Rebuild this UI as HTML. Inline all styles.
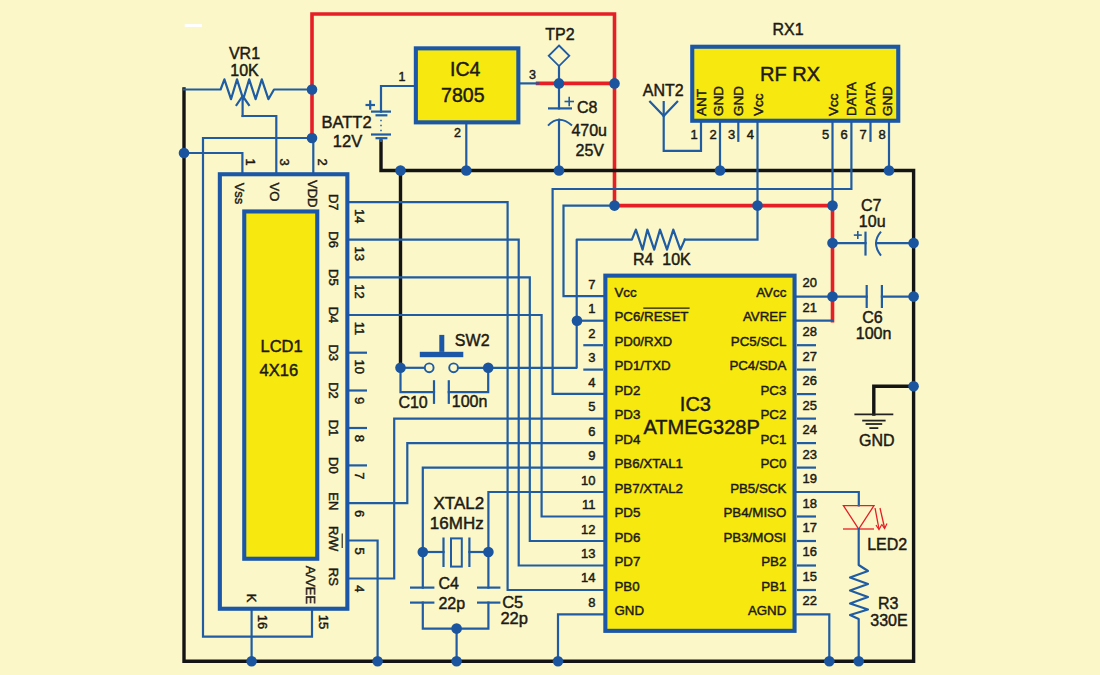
<!DOCTYPE html>
<html><head><meta charset="utf-8"><style>
html,body{margin:0;padding:0;background:#FBF7C9;}
svg{display:block;font-family:"Liberation Sans",sans-serif;}
</style></head><body>
<svg width="1100" height="675" viewBox="0 0 1100 675">
<rect width="1100" height="675" fill="#FBF7C9"/>
<polyline points="312,89 312,14 614.5,14 614.5,205.6 832.5,205.6 832.5,320.6" fill="none" stroke="#E61E26" stroke-width="3.6" stroke-linejoin="miter" stroke-linecap="square" />
<polyline points="312,89 312,138" fill="none" stroke="#E61E26" stroke-width="3.6" stroke-linejoin="miter" stroke-linecap="square" />
<polyline points="537.6,83.4 614.5,83.4" fill="none" stroke="#E61E26" stroke-width="3.6" stroke-linejoin="miter" stroke-linecap="square" />
<polyline points="381,141 381,170.5 913.6,170.5 913.6,661.2 184,661.2 184,89" fill="none" stroke="#141414" stroke-width="3.4" stroke-linejoin="miter" stroke-linecap="square" />
<polyline points="400.5,170.5 400.5,367.8" fill="none" stroke="#141414" stroke-width="3.4" stroke-linejoin="miter" stroke-linecap="square" />
<polyline points="913.6,386.3 873.8,386.3 873.8,414" fill="none" stroke="#141414" stroke-width="3.4" stroke-linejoin="miter" stroke-linecap="square" />
<polyline points="184,89.5 220.6,89.5 224.4,79.4 231,99.2 237,79.4 243.2,99.2 249.2,79.4 255.6,99.2 261.8,79.4 268.4,99.2 274,89.5 312,89.5" fill="none" stroke="#1F5CA3" stroke-width="2.2" stroke-linejoin="round" stroke-linecap="square" />
<polyline points="242.6,116 242.6,96.5" fill="none" stroke="#1F5CA3" stroke-width="2.2" stroke-linejoin="miter" stroke-linecap="square" />
<polyline points="236.5,105 242.6,96 248.9,105" fill="none" stroke="#1F5CA3" stroke-width="2.2" stroke-linejoin="round" stroke-linecap="square" />
<polyline points="242.6,116 276.3,116 276.3,173" fill="none" stroke="#1F5CA3" stroke-width="2.2" stroke-linejoin="miter" stroke-linecap="square" />
<polyline points="312,138 203,138 203,636.6 312,636.6 312,609" fill="none" stroke="#1F5CA3" stroke-width="2.2" stroke-linejoin="miter" stroke-linecap="square" />
<polyline points="313.3,138 313.3,173" fill="none" stroke="#1F5CA3" stroke-width="2.2" stroke-linejoin="miter" stroke-linecap="square" />
<polyline points="184,153 242.4,153 242.4,173" fill="none" stroke="#1F5CA3" stroke-width="2.2" stroke-linejoin="miter" stroke-linecap="square" />
<polyline points="414,86 381,86 381,111.6" fill="none" stroke="#1F5CA3" stroke-width="2.2" stroke-linejoin="miter" stroke-linecap="square" />
<line x1="371" y1="111.6" x2="391" y2="111.6" stroke="#1F5CA3" stroke-width="2.2" stroke-linecap="butt"/>
<line x1="375.5" y1="115.3" x2="387.4" y2="115.3" stroke="#1F5CA3" stroke-width="2.2" stroke-linecap="butt"/>
<line x1="381" y1="119.7" x2="381" y2="121.3" stroke="#1F5CA3" stroke-width="1.5" stroke-linecap="butt"/>
<line x1="381" y1="124.7" x2="381" y2="126.3" stroke="#1F5CA3" stroke-width="1.5" stroke-linecap="butt"/>
<line x1="381" y1="129.7" x2="381" y2="131.3" stroke="#1F5CA3" stroke-width="1.5" stroke-linecap="butt"/>
<line x1="371" y1="134.5" x2="391" y2="134.5" stroke="#1F5CA3" stroke-width="2.2" stroke-linecap="butt"/>
<line x1="375.5" y1="138.2" x2="387.4" y2="138.2" stroke="#1F5CA3" stroke-width="2.2" stroke-linecap="butt"/>
<line x1="381" y1="138.2" x2="381" y2="142" stroke="#1F5CA3" stroke-width="2" stroke-linecap="butt"/>
<line x1="365.5" y1="105" x2="375" y2="105" stroke="#1F5CA3" stroke-width="2.2" stroke-linecap="butt"/>
<line x1="370.2" y1="100.3" x2="370.2" y2="109.7" stroke="#1F5CA3" stroke-width="2.2" stroke-linecap="butt"/>
<polyline points="466.3,124 466.3,170.5" fill="none" stroke="#1F5CA3" stroke-width="2.2" stroke-linejoin="miter" stroke-linecap="square" />
<polyline points="520,83.4 538,83.4" fill="none" stroke="#1F5CA3" stroke-width="2.2" stroke-linejoin="miter" stroke-linecap="square" />
<polygon points="559,45.5 569.3,55.8 559,66.1 548.7,55.8" fill="none" stroke="#1F5CA3" stroke-width="1.8"/>
<polyline points="559,66 559,108.4" fill="none" stroke="#1F5CA3" stroke-width="2.2" stroke-linejoin="miter" stroke-linecap="square" />
<line x1="548" y1="108.4" x2="572" y2="108.4" stroke="#1F5CA3" stroke-width="2.2" stroke-linecap="butt"/>
<path d="M548,125.6 Q559,114 572,125.6" fill="none" stroke="#1F5CA3" stroke-width="2"/>
<polyline points="559,119.8 559,170.5" fill="none" stroke="#1F5CA3" stroke-width="2.2" stroke-linejoin="miter" stroke-linecap="square" />
<line x1="564.5" y1="101.5" x2="574" y2="101.5" stroke="#1F5CA3" stroke-width="1.6" stroke-linecap="butt"/>
<line x1="569.2" y1="96.8" x2="569.2" y2="106.2" stroke="#1F5CA3" stroke-width="1.6" stroke-linecap="butt"/>
<polyline points="701,122 701,150.8 663.7,150.8 663.7,102" fill="none" stroke="#1F5CA3" stroke-width="2.2" stroke-linejoin="miter" stroke-linecap="square" />
<polyline points="650.1,101.7 663.7,116" fill="none" stroke="#1F5CA3" stroke-width="2.2" stroke-linejoin="miter" stroke-linecap="square" stroke-linecap="butt"/>
<polyline points="677.2,101.7 663.7,116" fill="none" stroke="#1F5CA3" stroke-width="2.2" stroke-linejoin="miter" stroke-linecap="square" stroke-linecap="butt"/>
<polyline points="720,122 720,170.5" fill="none" stroke="#1F5CA3" stroke-width="2.2" stroke-linejoin="miter" stroke-linecap="square" />
<polyline points="738.3,122 738.3,140.8" fill="none" stroke="#1F5CA3" stroke-width="2.2" stroke-linejoin="miter" stroke-linecap="square" />
<polyline points="757.5,122 757.5,239.6 684.8,239.6" fill="none" stroke="#1F5CA3" stroke-width="2.2" stroke-linejoin="miter" stroke-linecap="square" />
<polyline points="684.8,239.6 680.4,249.6 673.3,229.6 667,249.6 660,229.6 654.2,249.6 647.4,229.6 642.6,249.6 635.9,229.6 631.9,239.6 576.7,239.6 576.7,367.8 488.2,367.8" fill="none" stroke="#1F5CA3" stroke-width="2.2" stroke-linejoin="round" stroke-linecap="square" />
<polyline points="832.5,122 832.5,205.6" fill="none" stroke="#1F5CA3" stroke-width="2.2" stroke-linejoin="miter" stroke-linecap="square" />
<polyline points="851.4,122 851.4,189 552.6,189 552.6,393.9 603,393.9" fill="none" stroke="#1F5CA3" stroke-width="2.2" stroke-linejoin="miter" stroke-linecap="square" />
<polyline points="870.5,122 870.5,140.8" fill="none" stroke="#1F5CA3" stroke-width="2.2" stroke-linejoin="miter" stroke-linecap="square" />
<polyline points="889,122 889,170.5" fill="none" stroke="#1F5CA3" stroke-width="2.2" stroke-linejoin="miter" stroke-linecap="square" />
<polyline points="614.5,205.6 563.5,205.6 563.5,296.2 603,296.2" fill="none" stroke="#1F5CA3" stroke-width="2.2" stroke-linejoin="miter" stroke-linecap="square" />
<polyline points="577,320.7 603,320.7" fill="none" stroke="#1F5CA3" stroke-width="2.2" stroke-linejoin="miter" stroke-linecap="square" />
<line x1="583.3" y1="345.2" x2="603" y2="345.2" stroke="#1F5CA3" stroke-width="2.2" stroke-linecap="butt"/>
<line x1="583.3" y1="369.6" x2="603" y2="369.6" stroke="#1F5CA3" stroke-width="2.2" stroke-linecap="butt"/>
<polyline points="603,418.6 394.2,418.6 394.2,578.5 349,578.5" fill="none" stroke="#1F5CA3" stroke-width="2.2" stroke-linejoin="miter" stroke-linecap="square" />
<polyline points="603,443.1 407.3,443.1 407.3,503.1 349,503.1" fill="none" stroke="#1F5CA3" stroke-width="2.2" stroke-linejoin="miter" stroke-linecap="square" />
<polyline points="603,467.6 422.8,467.6 422.8,587.6" fill="none" stroke="#1F5CA3" stroke-width="2.2" stroke-linejoin="miter" stroke-linecap="square" />
<polyline points="603,492 488.4,492 488.4,587.6" fill="none" stroke="#1F5CA3" stroke-width="2.2" stroke-linejoin="miter" stroke-linecap="square" />
<polyline points="603,516.5 541.6,516.5 541.6,315 349,315" fill="none" stroke="#1F5CA3" stroke-width="2.2" stroke-linejoin="miter" stroke-linecap="square" />
<polyline points="603,541 529.8,541 529.8,277.3 349,277.3" fill="none" stroke="#1F5CA3" stroke-width="2.2" stroke-linejoin="miter" stroke-linecap="square" />
<polyline points="603,565.5 518.7,565.5 518.7,239.6 349,239.6" fill="none" stroke="#1F5CA3" stroke-width="2.2" stroke-linejoin="miter" stroke-linecap="square" />
<polyline points="603,590 507.6,590 507.6,202.2 349,202.2" fill="none" stroke="#1F5CA3" stroke-width="2.2" stroke-linejoin="miter" stroke-linecap="square" />
<polyline points="603,614.4 558,614.4 558,661.2" fill="none" stroke="#1F5CA3" stroke-width="2.2" stroke-linejoin="miter" stroke-linecap="square" />
<line x1="349" y1="352.7" x2="367" y2="352.7" stroke="#1F5CA3" stroke-width="2.2" stroke-linecap="butt"/>
<line x1="349" y1="390.5" x2="367" y2="390.5" stroke="#1F5CA3" stroke-width="2.2" stroke-linecap="butt"/>
<line x1="349" y1="428" x2="367" y2="428" stroke="#1F5CA3" stroke-width="2.2" stroke-linecap="butt"/>
<line x1="349" y1="465.4" x2="367" y2="465.4" stroke="#1F5CA3" stroke-width="2.2" stroke-linecap="butt"/>
<polyline points="349,540.5 377.6,540.5 377.6,661.2" fill="none" stroke="#1F5CA3" stroke-width="2.2" stroke-linejoin="miter" stroke-linecap="square" />
<polyline points="251.6,609 251.6,661.2" fill="none" stroke="#1F5CA3" stroke-width="2.2" stroke-linejoin="miter" stroke-linecap="square" />
<polyline points="422.8,552 443.5,552" fill="none" stroke="#1F5CA3" stroke-width="2.2" stroke-linejoin="miter" stroke-linecap="square" />
<line x1="443.5" y1="537.5" x2="443.5" y2="567" stroke="#1F5CA3" stroke-width="2.2" stroke-linecap="butt"/>
<rect x="451" y="538.4" width="10.8" height="28.2" fill="none" stroke="#1F5CA3" stroke-width="2"/>
<line x1="469.4" y1="537.5" x2="469.4" y2="567" stroke="#1F5CA3" stroke-width="2.2" stroke-linecap="butt"/>
<polyline points="469.4,552 488.4,552" fill="none" stroke="#1F5CA3" stroke-width="2.2" stroke-linejoin="miter" stroke-linecap="square" />
<line x1="410" y1="587.6" x2="434.4" y2="587.6" stroke="#1F5CA3" stroke-width="2.2" stroke-linecap="butt"/>
<line x1="410" y1="602.6" x2="434.4" y2="602.6" stroke="#1F5CA3" stroke-width="2.2" stroke-linecap="butt"/>
<line x1="477" y1="587.6" x2="500.4" y2="587.6" stroke="#1F5CA3" stroke-width="2.2" stroke-linecap="butt"/>
<line x1="477" y1="602.6" x2="500.4" y2="602.6" stroke="#1F5CA3" stroke-width="2.2" stroke-linecap="butt"/>
<polyline points="422.8,602.6 422.8,628.6 488.4,628.6 488.4,602.6" fill="none" stroke="#1F5CA3" stroke-width="2.2" stroke-linejoin="miter" stroke-linecap="square" />
<polyline points="456.6,628.6 456.6,661.2" fill="none" stroke="#1F5CA3" stroke-width="2.2" stroke-linejoin="miter" stroke-linecap="square" />
<polyline points="400.5,367.8 424.8,367.8" fill="none" stroke="#1F5CA3" stroke-width="2.2" stroke-linejoin="miter" stroke-linecap="square" />
<circle cx="429.2" cy="367.8" r="4.4" fill="#FBF7C9" stroke="#1F5CA3" stroke-width="1.9"/>
<circle cx="453.6" cy="367.8" r="4.4" fill="#FBF7C9" stroke="#1F5CA3" stroke-width="1.9"/>
<polyline points="458,367.8 488.2,367.8" fill="none" stroke="#1F5CA3" stroke-width="2.2" stroke-linejoin="miter" stroke-linecap="square" />
<rect x="419.8" y="351.8" width="43.5" height="5.4" fill="#1B57A6"/>
<rect x="439.3" y="334.9" width="5" height="17" fill="#1B57A6"/>
<polyline points="400.5,367.8 400.5,392.1 434,392.1" fill="none" stroke="#1F5CA3" stroke-width="2.2" stroke-linejoin="miter" stroke-linecap="square" />
<line x1="434" y1="380.2" x2="434" y2="403.9" stroke="#1F5CA3" stroke-width="2.2" stroke-linecap="butt"/>
<line x1="448.8" y1="380.2" x2="448.8" y2="403.9" stroke="#1F5CA3" stroke-width="2.2" stroke-linecap="butt"/>
<polyline points="448.8,392.1 488.2,392.1 488.2,367.8" fill="none" stroke="#1F5CA3" stroke-width="2.2" stroke-linejoin="miter" stroke-linecap="square" />
<polyline points="797,296.6 832.5,296.6" fill="none" stroke="#1F5CA3" stroke-width="2.2" stroke-linejoin="miter" stroke-linecap="square" />
<polyline points="797,320.6 832.5,320.6" fill="none" stroke="#1F5CA3" stroke-width="2.2" stroke-linejoin="miter" stroke-linecap="square" />
<line x1="797" y1="345.2" x2="816" y2="345.2" stroke="#1F5CA3" stroke-width="2.2" stroke-linecap="butt"/>
<line x1="797" y1="369.6" x2="816" y2="369.6" stroke="#1F5CA3" stroke-width="2.2" stroke-linecap="butt"/>
<line x1="797" y1="394.1" x2="816" y2="394.1" stroke="#1F5CA3" stroke-width="2.2" stroke-linecap="butt"/>
<line x1="797" y1="418.6" x2="816" y2="418.6" stroke="#1F5CA3" stroke-width="2.2" stroke-linecap="butt"/>
<line x1="797" y1="443.1" x2="816" y2="443.1" stroke="#1F5CA3" stroke-width="2.2" stroke-linecap="butt"/>
<line x1="797" y1="467.6" x2="816" y2="467.6" stroke="#1F5CA3" stroke-width="2.2" stroke-linecap="butt"/>
<line x1="797" y1="516.5" x2="816" y2="516.5" stroke="#1F5CA3" stroke-width="2.2" stroke-linecap="butt"/>
<line x1="797" y1="541" x2="816" y2="541" stroke="#1F5CA3" stroke-width="2.2" stroke-linecap="butt"/>
<line x1="797" y1="565.5" x2="816" y2="565.5" stroke="#1F5CA3" stroke-width="2.2" stroke-linecap="butt"/>
<line x1="797" y1="590" x2="816" y2="590" stroke="#1F5CA3" stroke-width="2.2" stroke-linecap="butt"/>
<polyline points="797,492 858.8,492 858.8,505.5" fill="none" stroke="#1F5CA3" stroke-width="2.2" stroke-linejoin="miter" stroke-linecap="square" />
<polyline points="797,614.4 829.3,614.4 829.3,661.2" fill="none" stroke="#1F5CA3" stroke-width="2.2" stroke-linejoin="miter" stroke-linecap="square" />
<polyline points="832.5,243.1 865.5,243.1" fill="none" stroke="#1F5CA3" stroke-width="2.2" stroke-linejoin="miter" stroke-linecap="square" />
<line x1="865.5" y1="231.6" x2="865.5" y2="255.6" stroke="#1F5CA3" stroke-width="2.2" stroke-linecap="butt"/>
<path d="M881,231.6 Q871,243.1 881,255.6" fill="none" stroke="#1F5CA3" stroke-width="2"/>
<polyline points="876.3,243.1 913.6,243.1" fill="none" stroke="#1F5CA3" stroke-width="2.2" stroke-linejoin="miter" stroke-linecap="square" />
<line x1="853.8" y1="235.1" x2="861.8" y2="235.1" stroke="#1F5CA3" stroke-width="1.6" stroke-linecap="butt"/>
<line x1="857.8" y1="231.1" x2="857.8" y2="239.1" stroke="#1F5CA3" stroke-width="1.6" stroke-linecap="butt"/>
<polyline points="832.5,296.6 866.7,296.6" fill="none" stroke="#1F5CA3" stroke-width="2.2" stroke-linejoin="miter" stroke-linecap="square" />
<line x1="866.7" y1="285" x2="866.7" y2="308" stroke="#1F5CA3" stroke-width="2.2" stroke-linecap="butt"/>
<line x1="881.9" y1="285" x2="881.9" y2="308" stroke="#1F5CA3" stroke-width="2.2" stroke-linecap="butt"/>
<polyline points="881.9,296.6 913.6,296.6" fill="none" stroke="#1F5CA3" stroke-width="2.2" stroke-linejoin="miter" stroke-linecap="square" />
<line x1="854.4" y1="414.4" x2="893.3" y2="414.4" stroke="#222" stroke-width="1.8" stroke-linecap="butt"/>
<line x1="862.2" y1="420.6" x2="885.6" y2="420.6" stroke="#222" stroke-width="1.8" stroke-linecap="butt"/>
<line x1="865.6" y1="424.0" x2="882.2" y2="424.0" stroke="#222" stroke-width="1.8" stroke-linecap="butt"/>
<line x1="869.4" y1="428.1" x2="878.3" y2="428.1" stroke="#222" stroke-width="1.8" stroke-linecap="butt"/>
<polygon points="843.4,505.6 874,505.6 858.7,529" fill="none" stroke="#E61E26" stroke-width="1.3"/>
<line x1="843" y1="529" x2="874" y2="529" stroke="#E61E26" stroke-width="1.3" stroke-linecap="butt"/>
<line x1="875" y1="508" x2="879" y2="529" stroke="#E61E26" stroke-width="1.3" stroke-linecap="butt"/>
<line x1="880" y1="508" x2="884.6" y2="528" stroke="#E61E26" stroke-width="1.3" stroke-linecap="butt"/>
<polyline points="876,525 879,529.5 881.5,525" fill="none" stroke="#E61E26" stroke-width="1.2"/>
<polyline points="881.5,524 884.6,528.5 887,523.5" fill="none" stroke="#E61E26" stroke-width="1.2"/>
<polyline points="858.7,529 858.7,565 868,571 850,577.5 868,584 850,590.5 868,597 850,603.5 868,609.5 850,615 858.7,619 858.7,661.2" fill="none" stroke="#1F5CA3" stroke-width="2.2" stroke-linejoin="round" stroke-linecap="square" />
<rect x="415.85" y="48.349999999999994" width="102.49999999999997" height="74.00000000000001" fill="#F7E810" stroke="#1B57A6" stroke-width="4.1"/>
<rect x="692.25" y="46.75" width="205.99999999999991" height="74.0" fill="#F7E810" stroke="#1B57A6" stroke-width="4.1"/>
<rect x="219.85000000000002" y="174.25" width="127.49999999999997" height="434.49999999999994" fill="#FBF7C9" stroke="#1B57A6" stroke-width="4.1"/>
<rect x="244.25" y="211.45000000000002" width="73.00000000000003" height="347.29999999999995" fill="#F7E810" stroke="#1B57A6" stroke-width="4.1"/>
<rect x="605.3499999999999" y="275.65000000000003" width="189.20000000000007" height="355.19999999999993" fill="#F7E810" stroke="#1B57A6" stroke-width="4.1"/>
<circle cx="312" cy="89.5" r="5.3" fill="#1B55A0"/>
<circle cx="312" cy="138" r="5.3" fill="#1B55A0"/>
<circle cx="184" cy="153" r="5.3" fill="#1B55A0"/>
<circle cx="559" cy="83.4" r="5.3" fill="#1B55A0"/>
<circle cx="614.5" cy="83.4" r="5.3" fill="#1B55A0"/>
<circle cx="400.5" cy="170.5" r="5.3" fill="#1B55A0"/>
<circle cx="466.3" cy="170.5" r="5.3" fill="#1B55A0"/>
<circle cx="559" cy="170.5" r="5.3" fill="#1B55A0"/>
<circle cx="720" cy="170.5" r="5.3" fill="#1B55A0"/>
<circle cx="889" cy="170.5" r="5.3" fill="#1B55A0"/>
<circle cx="614.5" cy="205.6" r="5.3" fill="#1B55A0"/>
<circle cx="757.5" cy="205.6" r="5.3" fill="#1B55A0"/>
<circle cx="832.5" cy="205.6" r="5.3" fill="#1B55A0"/>
<circle cx="832.5" cy="243.1" r="5.3" fill="#1B55A0"/>
<circle cx="913.6" cy="243.1" r="5.3" fill="#1B55A0"/>
<circle cx="832.5" cy="296.6" r="5.3" fill="#1B55A0"/>
<circle cx="913.6" cy="296.6" r="5.3" fill="#1B55A0"/>
<circle cx="913.6" cy="386.3" r="5.3" fill="#1B55A0"/>
<circle cx="577" cy="320.7" r="5.3" fill="#1B55A0"/>
<circle cx="400.5" cy="367.8" r="5.3" fill="#1B55A0"/>
<circle cx="488.2" cy="367.8" r="5.3" fill="#1B55A0"/>
<circle cx="422.8" cy="552" r="5.3" fill="#1B55A0"/>
<circle cx="488.4" cy="552" r="5.3" fill="#1B55A0"/>
<circle cx="456.6" cy="628.6" r="5.3" fill="#1B55A0"/>
<circle cx="251.6" cy="661.2" r="5.3" fill="#1B55A0"/>
<circle cx="377.6" cy="661.2" r="5.3" fill="#1B55A0"/>
<circle cx="456.6" cy="661.2" r="5.3" fill="#1B55A0"/>
<circle cx="558" cy="661.2" r="5.3" fill="#1B55A0"/>
<circle cx="829.3" cy="661.2" r="5.3" fill="#1B55A0"/>
<circle cx="858.7" cy="661.2" r="5.3" fill="#1B55A0"/>
<text x="244.5" y="59" font-size="16" text-anchor="middle" fill="#1c1a14" stroke="#1c1a14" stroke-width="0.45" >VR1</text>
<text x="244.5" y="76" font-size="16" text-anchor="middle" fill="#1c1a14" stroke="#1c1a14" stroke-width="0.45" >10K</text>
<text x="346.5" y="128" font-size="16.5" text-anchor="middle" fill="#1c1a14" stroke="#1c1a14" stroke-width="0.45" >BATT2</text>
<text x="347.5" y="147" font-size="16.5" text-anchor="middle" fill="#1c1a14" stroke="#1c1a14" stroke-width="0.45" >12V</text>
<text x="465.2" y="75.5" font-size="19.5" text-anchor="middle" fill="#1c1a14" stroke="#1c1a14" stroke-width="0.45" >IC4</text>
<text x="462.8" y="101.5" font-size="19.5" text-anchor="middle" fill="#1c1a14" stroke="#1c1a14" stroke-width="0.45" >7805</text>
<text x="560" y="39.5" font-size="16" text-anchor="middle" fill="#1c1a14" stroke="#1c1a14" stroke-width="0.45" >TP2</text>
<text x="402" y="80.5" font-size="12.5" text-anchor="middle" fill="#1c1a14" stroke="#1c1a14" stroke-width="0.45" >1</text>
<text x="532.5" y="78.5" font-size="12.5" text-anchor="middle" fill="#1c1a14" stroke="#1c1a14" stroke-width="0.45" >3</text>
<text x="457.5" y="137" font-size="12.5" text-anchor="middle" fill="#1c1a14" stroke="#1c1a14" stroke-width="0.45" >2</text>
<text x="577" y="113" font-size="16" text-anchor="start" fill="#1c1a14" stroke="#1c1a14" stroke-width="0.45" >C8</text>
<text x="571.4" y="136" font-size="16" text-anchor="start" fill="#1c1a14" stroke="#1c1a14" stroke-width="0.45" >470u</text>
<text x="575.5" y="155.5" font-size="16" text-anchor="start" fill="#1c1a14" stroke="#1c1a14" stroke-width="0.45" >25V</text>
<text x="788" y="35.2" font-size="16" text-anchor="middle" fill="#1c1a14" stroke="#1c1a14" stroke-width="0.45" >RX1</text>
<text x="790" y="81" font-size="20" text-anchor="middle" fill="#1c1a14" stroke="#1c1a14" stroke-width="0.45" >RF RX</text>
<text x="663.3" y="95.8" font-size="16" text-anchor="middle" fill="#1c1a14" stroke="#1c1a14" stroke-width="0.45" >ANT2</text>
<text transform="translate(700.6,116) rotate(-90)" x="0" y="4.92" font-size="13.5" fill="#1c1a14" stroke="#1c1a14" stroke-width="0.45">ANT</text>
<text transform="translate(718.2,116) rotate(-90)" x="0" y="4.92" font-size="13.5" fill="#1c1a14" stroke="#1c1a14" stroke-width="0.45">GND</text>
<text transform="translate(738.3,116) rotate(-90)" x="0" y="4.92" font-size="13.5" fill="#1c1a14" stroke="#1c1a14" stroke-width="0.45">GND</text>
<text transform="translate(757.6,116) rotate(-90)" x="0" y="4.92" font-size="13.5" fill="#1c1a14" stroke="#1c1a14" stroke-width="0.45">Vcc</text>
<text transform="translate(832.8,116) rotate(-90)" x="0" y="4.92" font-size="13.5" fill="#1c1a14" stroke="#1c1a14" stroke-width="0.45">Vcc</text>
<text transform="translate(851.2,116) rotate(-90)" x="0" y="4.92" font-size="13.5" fill="#1c1a14" stroke="#1c1a14" stroke-width="0.45">DATA</text>
<text transform="translate(870.5,116) rotate(-90)" x="0" y="4.92" font-size="13.5" fill="#1c1a14" stroke="#1c1a14" stroke-width="0.45">DATA</text>
<text transform="translate(886.9,116) rotate(-90)" x="0" y="4.92" font-size="13.5" fill="#1c1a14" stroke="#1c1a14" stroke-width="0.45">GND</text>
<text x="694" y="139" font-size="13" text-anchor="middle" fill="#1c1a14" stroke="#1c1a14" stroke-width="0.45" >1</text>
<text x="713" y="139" font-size="13" text-anchor="middle" fill="#1c1a14" stroke="#1c1a14" stroke-width="0.45" >2</text>
<text x="731.5" y="139" font-size="13" text-anchor="middle" fill="#1c1a14" stroke="#1c1a14" stroke-width="0.45" >3</text>
<text x="750.3" y="139" font-size="13" text-anchor="middle" fill="#1c1a14" stroke="#1c1a14" stroke-width="0.45" >4</text>
<text x="825.5" y="139" font-size="13" text-anchor="middle" fill="#1c1a14" stroke="#1c1a14" stroke-width="0.45" >5</text>
<text x="844" y="139" font-size="13" text-anchor="middle" fill="#1c1a14" stroke="#1c1a14" stroke-width="0.45" >6</text>
<text x="863" y="139" font-size="13" text-anchor="middle" fill="#1c1a14" stroke="#1c1a14" stroke-width="0.45" >7</text>
<text x="882" y="139" font-size="13" text-anchor="middle" fill="#1c1a14" stroke="#1c1a14" stroke-width="0.45" >8</text>
<text transform="translate(239.5,193.5) rotate(90)" x="0" y="4.74" font-size="13" text-anchor="middle" fill="#1c1a14" stroke="#1c1a14" stroke-width="0.45" >Vss</text>
<text transform="translate(274.7,192) rotate(90)" x="0" y="4.74" font-size="13" text-anchor="middle" fill="#1c1a14" stroke="#1c1a14" stroke-width="0.45" >VO</text>
<text transform="translate(313,193.7) rotate(90)" x="0" y="4.74" font-size="13" text-anchor="middle" fill="#1c1a14" stroke="#1c1a14" stroke-width="0.45" >VDD</text>
<text transform="translate(333.6,202.2) rotate(90)" x="0" y="4.74" font-size="13" text-anchor="middle" fill="#1c1a14" stroke="#1c1a14" stroke-width="0.45" >D7</text>
<text transform="translate(333.6,239.6) rotate(90)" x="0" y="4.74" font-size="13" text-anchor="middle" fill="#1c1a14" stroke="#1c1a14" stroke-width="0.45" >D6</text>
<text transform="translate(333.6,277.3) rotate(90)" x="0" y="4.74" font-size="13" text-anchor="middle" fill="#1c1a14" stroke="#1c1a14" stroke-width="0.45" >D5</text>
<text transform="translate(333.6,315) rotate(90)" x="0" y="4.74" font-size="13" text-anchor="middle" fill="#1c1a14" stroke="#1c1a14" stroke-width="0.45" >D4</text>
<text transform="translate(333.6,352.7) rotate(90)" x="0" y="4.74" font-size="13" text-anchor="middle" fill="#1c1a14" stroke="#1c1a14" stroke-width="0.45" >D3</text>
<text transform="translate(333.6,390.5) rotate(90)" x="0" y="4.74" font-size="13" text-anchor="middle" fill="#1c1a14" stroke="#1c1a14" stroke-width="0.45" >D2</text>
<text transform="translate(333.6,428) rotate(90)" x="0" y="4.74" font-size="13" text-anchor="middle" fill="#1c1a14" stroke="#1c1a14" stroke-width="0.45" >D1</text>
<text transform="translate(333.6,465.4) rotate(90)" x="0" y="4.74" font-size="13" text-anchor="middle" fill="#1c1a14" stroke="#1c1a14" stroke-width="0.45" >D0</text>
<text transform="translate(333.6,501.3) rotate(90)" x="0" y="4.74" font-size="13" text-anchor="middle" fill="#1c1a14" stroke="#1c1a14" stroke-width="0.45" >EN</text>
<text transform="translate(333.6,538.7) rotate(90)" x="0" y="4.74" font-size="13" text-anchor="middle" fill="#1c1a14" stroke="#1c1a14" stroke-width="0.45" >R/W</text>
<text transform="translate(333.6,576.8) rotate(90)" x="0" y="4.74" font-size="13" text-anchor="middle" fill="#1c1a14" stroke="#1c1a14" stroke-width="0.45" >RS</text>
<line x1="342.2" y1="533.5" x2="342.2" y2="548" stroke="#1c1a14" stroke-width="1.1" stroke-linecap="butt"/>
<text transform="translate(310.8,585) rotate(90)" x="0" y="4.74" font-size="13" text-anchor="middle" fill="#1c1a14" stroke="#1c1a14" stroke-width="0.45" >A/VEE</text>
<text transform="translate(251.6,598) rotate(90)" x="0" y="4.74" font-size="13" text-anchor="middle" fill="#1c1a14" stroke="#1c1a14" stroke-width="0.45" >K</text>
<text transform="translate(262.4,622) rotate(90)" x="0" y="4.74" font-size="13" text-anchor="middle" fill="#1c1a14" stroke="#1c1a14" stroke-width="0.45" >16</text>
<text transform="translate(324,622) rotate(90)" x="0" y="4.74" font-size="13" text-anchor="middle" fill="#1c1a14" stroke="#1c1a14" stroke-width="0.45" >15</text>
<text transform="translate(251,162) rotate(90)" x="0" y="4.74" font-size="13" text-anchor="middle" fill="#1c1a14" stroke="#1c1a14" stroke-width="0.45" >1</text>
<text transform="translate(285,162) rotate(90)" x="0" y="4.74" font-size="13" text-anchor="middle" fill="#1c1a14" stroke="#1c1a14" stroke-width="0.45" >3</text>
<text transform="translate(323,162) rotate(90)" x="0" y="4.74" font-size="13" text-anchor="middle" fill="#1c1a14" stroke="#1c1a14" stroke-width="0.45" >2</text>
<text transform="translate(359.5,208.89999999999998) rotate(90)" x="0" y="4.74" font-size="13" text-anchor="start" fill="#1c1a14" stroke="#1c1a14" stroke-width="0.45" >14</text>
<text transform="translate(359.5,246.52999999999997) rotate(90)" x="0" y="4.74" font-size="13" text-anchor="start" fill="#1c1a14" stroke="#1c1a14" stroke-width="0.45" >13</text>
<text transform="translate(359.5,284.15999999999997) rotate(90)" x="0" y="4.74" font-size="13" text-anchor="start" fill="#1c1a14" stroke="#1c1a14" stroke-width="0.45" >12</text>
<text transform="translate(359.5,321.79) rotate(90)" x="0" y="4.74" font-size="13" text-anchor="start" fill="#1c1a14" stroke="#1c1a14" stroke-width="0.45" >11</text>
<text transform="translate(359.5,359.42) rotate(90)" x="0" y="4.74" font-size="13" text-anchor="start" fill="#1c1a14" stroke="#1c1a14" stroke-width="0.45" >10</text>
<text transform="translate(359.5,397.05) rotate(90)" x="0" y="4.74" font-size="13" text-anchor="start" fill="#1c1a14" stroke="#1c1a14" stroke-width="0.45" >9</text>
<text transform="translate(359.5,434.68) rotate(90)" x="0" y="4.74" font-size="13" text-anchor="start" fill="#1c1a14" stroke="#1c1a14" stroke-width="0.45" >8</text>
<text transform="translate(359.5,472.31) rotate(90)" x="0" y="4.74" font-size="13" text-anchor="start" fill="#1c1a14" stroke="#1c1a14" stroke-width="0.45" >7</text>
<text transform="translate(359.5,509.94) rotate(90)" x="0" y="4.74" font-size="13" text-anchor="start" fill="#1c1a14" stroke="#1c1a14" stroke-width="0.45" >6</text>
<text transform="translate(359.5,547.57) rotate(90)" x="0" y="4.74" font-size="13" text-anchor="start" fill="#1c1a14" stroke="#1c1a14" stroke-width="0.45" >5</text>
<text transform="translate(359.5,585.2) rotate(90)" x="0" y="4.74" font-size="13" text-anchor="start" fill="#1c1a14" stroke="#1c1a14" stroke-width="0.45" >4</text>
<text x="260.5" y="352.2" font-size="16.5" text-anchor="start" fill="#1c1a14" stroke="#1c1a14" stroke-width="0.45" >LCD1</text>
<text x="259.6" y="376.1" font-size="16.5" text-anchor="start" fill="#1c1a14" stroke="#1c1a14" stroke-width="0.45" >4X16</text>
<text x="472.2" y="346.4" font-size="16" text-anchor="middle" fill="#1c1a14" stroke="#1c1a14" stroke-width="0.45" >SW2</text>
<text x="398.4" y="407.8" font-size="16" text-anchor="start" fill="#1c1a14" stroke="#1c1a14" stroke-width="0.45" >C10</text>
<text x="451.8" y="406.9" font-size="16" text-anchor="start" fill="#1c1a14" stroke="#1c1a14" stroke-width="0.45" >100n</text>
<text x="458.8" y="509.4" font-size="17" text-anchor="middle" fill="#1c1a14" stroke="#1c1a14" stroke-width="0.45" >XTAL2</text>
<text x="456.8" y="529.3" font-size="17" text-anchor="middle" fill="#1c1a14" stroke="#1c1a14" stroke-width="0.45" >16MHz</text>
<text x="438.4" y="589.4" font-size="16" text-anchor="start" fill="#1c1a14" stroke="#1c1a14" stroke-width="0.45" >C4</text>
<text x="438.4" y="609" font-size="16" text-anchor="start" fill="#1c1a14" stroke="#1c1a14" stroke-width="0.45" >22p</text>
<text x="502.2" y="608" font-size="16.5" text-anchor="start" fill="#1c1a14" stroke="#1c1a14" stroke-width="0.45" >C5</text>
<text x="500.4" y="623.8" font-size="16.5" text-anchor="start" fill="#1c1a14" stroke="#1c1a14" stroke-width="0.45" >22p</text>
<text x="661.8" y="264.8" font-size="16" text-anchor="middle" fill="#1c1a14" stroke="#1c1a14" stroke-width="0.45" xml:space="preserve">R4  10K</text>
<text x="871.2" y="210.7" font-size="16" text-anchor="middle" fill="#1c1a14" stroke="#1c1a14" stroke-width="0.45" >C7</text>
<text x="872.2" y="227" font-size="16" text-anchor="middle" fill="#1c1a14" stroke="#1c1a14" stroke-width="0.45" >10u</text>
<text x="872.5" y="322.8" font-size="16" text-anchor="middle" fill="#1c1a14" stroke="#1c1a14" stroke-width="0.45" >C6</text>
<text x="873.6" y="338.9" font-size="16" text-anchor="middle" fill="#1c1a14" stroke="#1c1a14" stroke-width="0.45" >100n</text>
<text x="876.9" y="445.5" font-size="16" text-anchor="middle" fill="#1c1a14" stroke="#1c1a14" stroke-width="0.45" >GND</text>
<text x="887.2" y="550.3" font-size="16" text-anchor="middle" fill="#1c1a14" stroke="#1c1a14" stroke-width="0.45" >LED2</text>
<text x="888.2" y="609.2" font-size="16" text-anchor="middle" fill="#1c1a14" stroke="#1c1a14" stroke-width="0.45" >R3</text>
<text x="889" y="625.6" font-size="16" text-anchor="middle" fill="#1c1a14" stroke="#1c1a14" stroke-width="0.45" >330E</text>
<text x="695.4" y="411" font-size="20" text-anchor="middle" fill="#1c1a14" stroke="#1c1a14" stroke-width="0.45" >IC3</text>
<text x="701.6" y="434" font-size="20" text-anchor="middle" fill="#1c1a14" stroke="#1c1a14" stroke-width="0.45" >ATMEG328P</text>
<text x="614.5" y="296.8" font-size="13.3" text-anchor="start" fill="#1c1a14" stroke="#1c1a14" stroke-width="0.45" >Vcc</text>
<text x="786.3" y="296.8" font-size="13.3" text-anchor="end" fill="#1c1a14" stroke="#1c1a14" stroke-width="0.45" >AVcc</text>
<text x="595.5" y="288.7" font-size="13" text-anchor="end" fill="#1c1a14" stroke="#1c1a14" stroke-width="0.45" >7</text>
<text x="802.5" y="287.2" font-size="13" text-anchor="start" fill="#1c1a14" stroke="#1c1a14" stroke-width="0.45" >20</text>
<text x="614.5" y="321.28000000000003" font-size="13.3" text-anchor="start" fill="#1c1a14" stroke="#1c1a14" stroke-width="0.45" >PC6/RESET</text>
<text x="786.3" y="321.28000000000003" font-size="13.3" text-anchor="end" fill="#1c1a14" stroke="#1c1a14" stroke-width="0.45" >AVREF</text>
<text x="595.5" y="313.18" font-size="13" text-anchor="end" fill="#1c1a14" stroke="#1c1a14" stroke-width="0.45" >1</text>
<text x="802.5" y="311.68" font-size="13" text-anchor="start" fill="#1c1a14" stroke="#1c1a14" stroke-width="0.45" >21</text>
<text x="614.5" y="345.76" font-size="13.3" text-anchor="start" fill="#1c1a14" stroke="#1c1a14" stroke-width="0.45" >PD0/RXD</text>
<text x="786.3" y="345.76" font-size="13.3" text-anchor="end" fill="#1c1a14" stroke="#1c1a14" stroke-width="0.45" >PC5/SCL</text>
<text x="595.5" y="337.65999999999997" font-size="13" text-anchor="end" fill="#1c1a14" stroke="#1c1a14" stroke-width="0.45" >2</text>
<text x="802.5" y="336.15999999999997" font-size="13" text-anchor="start" fill="#1c1a14" stroke="#1c1a14" stroke-width="0.45" >28</text>
<text x="614.5" y="370.24" font-size="13.3" text-anchor="start" fill="#1c1a14" stroke="#1c1a14" stroke-width="0.45" >PD1/TXD</text>
<text x="786.3" y="370.24" font-size="13.3" text-anchor="end" fill="#1c1a14" stroke="#1c1a14" stroke-width="0.45" >PC4/SDA</text>
<text x="595.5" y="362.14" font-size="13" text-anchor="end" fill="#1c1a14" stroke="#1c1a14" stroke-width="0.45" >3</text>
<text x="802.5" y="360.64" font-size="13" text-anchor="start" fill="#1c1a14" stroke="#1c1a14" stroke-width="0.45" >27</text>
<text x="614.5" y="394.72" font-size="13.3" text-anchor="start" fill="#1c1a14" stroke="#1c1a14" stroke-width="0.45" >PD2</text>
<text x="786.3" y="394.72" font-size="13.3" text-anchor="end" fill="#1c1a14" stroke="#1c1a14" stroke-width="0.45" >PC3</text>
<text x="595.5" y="386.62" font-size="13" text-anchor="end" fill="#1c1a14" stroke="#1c1a14" stroke-width="0.45" >4</text>
<text x="802.5" y="385.12" font-size="13" text-anchor="start" fill="#1c1a14" stroke="#1c1a14" stroke-width="0.45" >26</text>
<text x="614.5" y="419.20000000000005" font-size="13.3" text-anchor="start" fill="#1c1a14" stroke="#1c1a14" stroke-width="0.45" >PD3</text>
<text x="786.3" y="419.20000000000005" font-size="13.3" text-anchor="end" fill="#1c1a14" stroke="#1c1a14" stroke-width="0.45" >PC2</text>
<text x="595.5" y="411.1" font-size="13" text-anchor="end" fill="#1c1a14" stroke="#1c1a14" stroke-width="0.45" >5</text>
<text x="802.5" y="409.6" font-size="13" text-anchor="start" fill="#1c1a14" stroke="#1c1a14" stroke-width="0.45" >25</text>
<text x="614.5" y="443.68" font-size="13.3" text-anchor="start" fill="#1c1a14" stroke="#1c1a14" stroke-width="0.45" >PD4</text>
<text x="786.3" y="443.68" font-size="13.3" text-anchor="end" fill="#1c1a14" stroke="#1c1a14" stroke-width="0.45" >PC1</text>
<text x="595.5" y="435.58" font-size="13" text-anchor="end" fill="#1c1a14" stroke="#1c1a14" stroke-width="0.45" >6</text>
<text x="802.5" y="434.08" font-size="13" text-anchor="start" fill="#1c1a14" stroke="#1c1a14" stroke-width="0.45" >24</text>
<text x="614.5" y="468.16" font-size="13.3" text-anchor="start" fill="#1c1a14" stroke="#1c1a14" stroke-width="0.45" >PB6/XTAL1</text>
<text x="786.3" y="468.16" font-size="13.3" text-anchor="end" fill="#1c1a14" stroke="#1c1a14" stroke-width="0.45" >PC0</text>
<text x="595.5" y="460.06" font-size="13" text-anchor="end" fill="#1c1a14" stroke="#1c1a14" stroke-width="0.45" >9</text>
<text x="802.5" y="458.56" font-size="13" text-anchor="start" fill="#1c1a14" stroke="#1c1a14" stroke-width="0.45" >23</text>
<text x="614.5" y="492.64" font-size="13.3" text-anchor="start" fill="#1c1a14" stroke="#1c1a14" stroke-width="0.45" >PB7/XTAL2</text>
<text x="786.3" y="492.64" font-size="13.3" text-anchor="end" fill="#1c1a14" stroke="#1c1a14" stroke-width="0.45" >PB5/SCK</text>
<text x="595.5" y="484.53999999999996" font-size="13" text-anchor="end" fill="#1c1a14" stroke="#1c1a14" stroke-width="0.45" >10</text>
<text x="802.5" y="483.03999999999996" font-size="13" text-anchor="start" fill="#1c1a14" stroke="#1c1a14" stroke-width="0.45" >19</text>
<text x="614.5" y="517.12" font-size="13.3" text-anchor="start" fill="#1c1a14" stroke="#1c1a14" stroke-width="0.45" >PD5</text>
<text x="786.3" y="517.12" font-size="13.3" text-anchor="end" fill="#1c1a14" stroke="#1c1a14" stroke-width="0.45" >PB4/MISO</text>
<text x="595.5" y="509.02" font-size="13" text-anchor="end" fill="#1c1a14" stroke="#1c1a14" stroke-width="0.45" >11</text>
<text x="802.5" y="507.52" font-size="13" text-anchor="start" fill="#1c1a14" stroke="#1c1a14" stroke-width="0.45" >18</text>
<text x="614.5" y="541.6" font-size="13.3" text-anchor="start" fill="#1c1a14" stroke="#1c1a14" stroke-width="0.45" >PD6</text>
<text x="786.3" y="541.6" font-size="13.3" text-anchor="end" fill="#1c1a14" stroke="#1c1a14" stroke-width="0.45" >PB3/MOSI</text>
<text x="595.5" y="533.5" font-size="13" text-anchor="end" fill="#1c1a14" stroke="#1c1a14" stroke-width="0.45" >12</text>
<text x="802.5" y="532.0" font-size="13" text-anchor="start" fill="#1c1a14" stroke="#1c1a14" stroke-width="0.45" >17</text>
<text x="614.5" y="566.08" font-size="13.3" text-anchor="start" fill="#1c1a14" stroke="#1c1a14" stroke-width="0.45" >PD7</text>
<text x="786.3" y="566.08" font-size="13.3" text-anchor="end" fill="#1c1a14" stroke="#1c1a14" stroke-width="0.45" >PB2</text>
<text x="595.5" y="557.98" font-size="13" text-anchor="end" fill="#1c1a14" stroke="#1c1a14" stroke-width="0.45" >13</text>
<text x="802.5" y="556.48" font-size="13" text-anchor="start" fill="#1c1a14" stroke="#1c1a14" stroke-width="0.45" >16</text>
<text x="614.5" y="590.5600000000001" font-size="13.3" text-anchor="start" fill="#1c1a14" stroke="#1c1a14" stroke-width="0.45" >PB0</text>
<text x="786.3" y="590.5600000000001" font-size="13.3" text-anchor="end" fill="#1c1a14" stroke="#1c1a14" stroke-width="0.45" >PB1</text>
<text x="595.5" y="582.46" font-size="13" text-anchor="end" fill="#1c1a14" stroke="#1c1a14" stroke-width="0.45" >14</text>
<text x="802.5" y="580.96" font-size="13" text-anchor="start" fill="#1c1a14" stroke="#1c1a14" stroke-width="0.45" >15</text>
<text x="614.5" y="615.0400000000001" font-size="13.3" text-anchor="start" fill="#1c1a14" stroke="#1c1a14" stroke-width="0.45" >GND</text>
<text x="786.3" y="615.0400000000001" font-size="13.3" text-anchor="end" fill="#1c1a14" stroke="#1c1a14" stroke-width="0.45" >AGND</text>
<text x="595.5" y="606.94" font-size="13" text-anchor="end" fill="#1c1a14" stroke="#1c1a14" stroke-width="0.45" >8</text>
<text x="802.5" y="605.44" font-size="13" text-anchor="start" fill="#1c1a14" stroke="#1c1a14" stroke-width="0.45" >22</text>
<line x1="643.3" y1="308.2" x2="689.6" y2="308.2" stroke="#1c1a14" stroke-width="1.2" stroke-linecap="butt"/>
<rect x="184.7" y="24" width="17.3" height="3" fill="#ffffff"/>
</svg></body></html>
